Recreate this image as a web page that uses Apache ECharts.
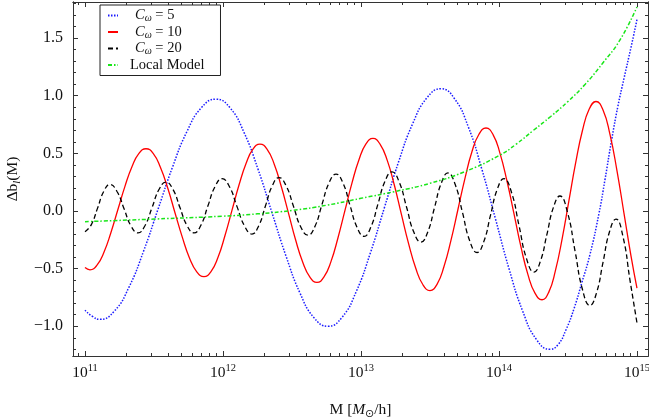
<!DOCTYPE html>
<html>
<head>
<meta charset="utf-8">
<script src="https://cdn.jsdelivr.net/npm/echarts@6/dist/echarts.min.js"></script>
<style>
  html, body { margin: 0; padding: 0; background: #ffffff; }
  #chart { width: 649px; height: 417px; }
</style>
</head>
<body>
<div id="chart"></div>
<script>
// Halo mass is stored as log10(M / [M_sun/h]); values are the bias deviation Δb_l(M).

// C_ω = 5
const logM_c5 = [11.000, 11.054, 11.109, 11.214, 11.319, 11.424, 11.529, 11.634, 11.739, 11.844, 11.949,
                 12.051, 12.152, 12.254, 12.355, 12.457, 12.558, 12.659, 12.761,
                 12.863, 12.966, 13.068, 13.170, 13.272, 13.375, 13.478, 13.580,
                 13.678, 13.778, 13.876, 13.975, 14.073, 14.172, 14.271, 14.370,
                 14.428, 14.486, 14.543, 14.601, 14.659, 14.725, 14.768, 14.817, 14.862, 14.906, 14.957, 15.000];
const db_c5 = [-0.86, -0.915, -0.94, -0.867, -0.66, -0.35, 0.015, 0.38, 0.69, 0.897, 0.97,
               0.895, 0.682, 0.362, -0.015, -0.392, -0.712, -0.925, -1.00,
               -0.922, -0.698, -0.364, 0.03, 0.424, 0.758, 0.982, 1.06,
               0.974, 0.729, 0.362, -0.07, -0.502, -0.869, -1.114, -1.20,
               -1.16, -1.03, -0.85, -0.62, -0.38, -0.02, 0.27, 0.62, 0.91, 1.15, 1.42, 1.66];

// C_ω = 10
const logM_c10 = [11.000, 11.036,
                  11.087, 11.138, 11.188, 11.239, 11.290, 11.341, 11.391, 11.442,
                  11.495, 11.547, 11.600, 11.652, 11.705, 11.757, 11.810, 11.862,
                  11.913, 11.964, 12.014, 12.065, 12.116, 12.167, 12.217, 12.268,
                  12.320, 12.372, 12.423, 12.475, 12.526, 12.578, 12.630, 12.681,
                  12.732, 12.783, 12.833, 12.884, 12.935, 12.986, 13.036, 13.087,
                  13.138, 13.191, 13.242, 13.293, 13.345, 13.397, 13.449, 13.500,
                  13.551, 13.601, 13.652, 13.703, 13.754, 13.804, 13.855, 13.906,
                  13.957, 14.007, 14.058, 14.109, 14.159, 14.210, 14.261, 14.312,
                  14.361, 14.409, 14.458, 14.507, 14.556, 14.605, 14.654, 14.703,
                  14.754, 14.804, 14.855, 14.906, 14.957, 15.000];
const db_c10 = [-0.49, -0.51,
                -0.470, -0.356, -0.186, 0.015, 0.216, 0.386, 0.500, 0.54,
                0.498, 0.377, 0.197, -0.015, -0.227, -0.407, -0.528, -0.57,
                -0.526, -0.402, -0.215, 0.005, 0.225, 0.412, 0.536, 0.58,
                0.534, 0.404, 0.210, -0.02, -0.250, -0.444, -0.574, -0.62,
                -0.572, -0.437, -0.234, 0.005, 0.244, 0.447, 0.582, 0.63,
                0.580, 0.437, 0.223, -0.03, -0.283, -0.497, -0.640, -0.69,
                -0.636, -0.484, -0.255, 0.015, 0.285, 0.514, 0.666, 0.72,
                0.663, 0.502, 0.260, -0.025, -0.310, -0.552, -0.713, -0.77,
                -0.704, -0.518, -0.239, 0.09, 0.419, 0.698, 0.884, 0.95,
                0.876, 0.666, 0.351, -0.02, -0.391, -0.67];

// C_ω = 20
const logM_c20 = [11.000, 11.045, 11.091, 11.136, 11.181,
                  11.232, 11.283, 11.333, 11.384,
                  11.435, 11.486, 11.536, 11.587,
                  11.638, 11.688, 11.739, 11.790,
                  11.841, 11.891, 11.942, 11.993,
                  12.047, 12.101, 12.156, 12.210,
                  12.259, 12.308, 12.357, 12.406,
                  12.458, 12.511, 12.563, 12.616,
                  12.667, 12.717, 12.768, 12.819,
                  12.870, 12.920, 12.971, 13.022,
                  13.072, 13.123, 13.174, 13.225,
                  13.277, 13.330, 13.382, 13.435,
                  13.484, 13.533, 13.582, 13.630,
                  13.683, 13.736, 13.788, 13.841,
                  13.890, 13.938, 13.987, 14.036,
                  14.091, 14.145, 14.199, 14.254,
                  14.301, 14.348, 14.395, 14.442,
                  14.496, 14.551, 14.605, 14.659,
                  14.707, 14.754, 14.801, 14.848,
                  14.899, 14.949, 15.000];
const db_c20 = [-0.18, -0.12, 0.025, 0.17, 0.23,
                0.169, 0.02, -0.129, -0.19,
                -0.126, 0.03, 0.186, 0.25,
                0.186, 0.03, -0.126, -0.19,
                -0.121, 0.045, 0.211, 0.28,
                0.210, 0.04, -0.130, -0.20,
                -0.128, 0.045, 0.218, 0.29,
                0.217, 0.04, -0.137, -0.21,
                -0.132, 0.055, 0.242, 0.32,
                0.241, 0.05, -0.141, -0.22,
                -0.138, 0.06, 0.258, 0.34,
                0.251, 0.035, -0.181, -0.27,
                -0.182, 0.03, 0.242, 0.33,
                0.229, -0.015, -0.259, -0.36,
                -0.266, -0.04, 0.186, 0.28,
                0.161, -0.125, -0.411, -0.53,
                -0.433, -0.20, 0.033, 0.13,
                -0.009, -0.345, -0.681, -0.82,
                -0.710, -0.445, -0.180, -0.07,
                -0.224, -0.597, -0.97];

// Local model
const logM_local = [11.0, 11.5, 12.0, 12.25, 12.5, 12.75, 13.0, 13.25, 13.5, 13.75,
                    14.0, 14.125, 14.25, 14.375, 14.5, 14.625, 14.75, 14.875, 15.0];
const db_local = [-0.093, -0.07, -0.045, -0.025, 0.005, 0.05, 0.11, 0.17, 0.24, 0.34,
                  0.48, 0.58, 0.70, 0.82, 0.95, 1.10, 1.28, 1.48, 1.77];

// Axis ticks
const xTickExponents = [11, 12, 13, 14, 15];
const yTickValues = [-1.0, -0.5, 0.0, 0.5, 1.0, 1.5];
const seriesNames = ['Cω = 5', 'Cω = 10', 'Cω = 20', 'Local Model'];

const xMin = Math.pow(10, 10.913);
const xMax = Math.pow(10, 15.08);
const yMin = -1.258;
const yMax = 1.813;

const FONT = 'Liberation Serif';
const FRAME = '#333333';

const xMajor = xTickExponents.map(e => Math.pow(10, e));
const xMinor = [];
for (let e = 10; e <= 15; e++) {
  for (let k = 2; k <= 9; k++) {
    const v = k * Math.pow(10, e);
    if (v > xMin && v < xMax) xMinor.push(v);
  }
}
const yMinor = [];
for (let i = -12; i <= 18; i++) {
  if (i % 5 !== 0) yMinor.push(i / 10);
}

function pairs(xs, ys) {
  return xs.map((lm, i) => [Math.pow(10, lm), ys[i]]);
}

function xAxis(position, ticks, len, withLabels) {
  const ax = {
    type: 'log', logBase: 10, min: xMin, max: xMax, position: position,
    axisLine: { show: true, onZero: false, lineStyle: { color: FRAME, width: 1 } },
    axisTick: { show: true, inside: true, length: len, customValues: ticks,
                lineStyle: { color: FRAME, width: 1 } },
    axisLabel: { show: false },
    splitLine: { show: false },
    minorTick: { show: false }
  };
  if (withLabels) {
    ax.axisLabel = {
      show: true, customValues: ticks, margin: 7,
      formatter: v => '{b|10}{sup|' + Math.round(Math.log10(v)) + '}',
      rich: {
        b: { fontFamily: FONT, fontSize: 15.5, color: '#111', lineHeight: 20 },
        sup: { fontFamily: FONT, fontSize: 10.5, color: '#111', verticalAlign: 'top' }
      }
    };
    ax.name = '{r|M [}{i|M}{s|⊙}{r|/h]}';
    ax.nameLocation = 'middle';
    ax.nameGap = 44;
    ax.nameTextStyle = {
      rich: {
        r: { fontFamily: FONT, fontSize: 15.5, color: '#111', lineHeight: 20 },
        i: { fontFamily: FONT, fontSize: 15.5, fontStyle: 'italic', color: '#111', lineHeight: 20 },
        s: { fontFamily: FONT, fontSize: 11, color: '#111', verticalAlign: 'bottom' }
      }
    };
  }
  return ax;
}

function yAxis(position, ticks, len, withLabels) {
  const ax = {
    type: 'value', min: yMin, max: yMax, position: position,
    axisLine: { show: true, onZero: false, lineStyle: { color: FRAME, width: 1 } },
    axisTick: { show: true, inside: true, length: len, customValues: ticks,
                lineStyle: { color: FRAME, width: 1 } },
    axisLabel: { show: false },
    splitLine: { show: false },
    minorTick: { show: false }
  };
  if (withLabels) {
    ax.axisLabel = {
      show: true, customValues: ticks, margin: 10,
      fontFamily: FONT, fontSize: 16, color: '#111',
      formatter: v => (v < 0 ? '\u2212' : '') + Math.abs(v).toFixed(1)
    };
    ax.name = '{r|Δb}{s|l}{r|(M)}';
    ax.nameLocation = 'middle';
    ax.nameRotate = 90;
    ax.nameGap = 50;
    ax.nameTextStyle = {
      rich: {
        r: { fontFamily: FONT, fontSize: 15.5, color: '#111', lineHeight: 20 },
        s: { fontFamily: FONT, fontSize: 10.5, fontStyle: 'italic', color: '#111', verticalAlign: 'bottom' }
      }
    };
  }
  return ax;
}

function line(name, data, color, width, dash) {
  return {
    name: name, type: 'line', data: data,
    xAxisIndex: 0, yAxisIndex: 0,
    smooth: 0.5, showSymbol: false, symbol: 'circle', symbolSize: 0,
    lineStyle: { color: color, width: width, type: dash, cap: 'butt' },
    itemStyle: { color: color },
    emphasis: { disabled: true }
  };
}

const chart = echarts.init(document.getElementById('chart'), null, { renderer: 'canvas' });
chart.setOption({
  animation: false,
  backgroundColor: '#ffffff',
  grid: { left: 73, top: 2, width: 575, height: 354, containLabel: false, outerBoundsMode: 'none' },
  xAxis: [
    xAxis('bottom', xMajor, 5, true),
    xAxis('bottom', xMinor, 3, false),
    xAxis('top', xMajor, 5, false),
    xAxis('top', xMinor, 3, false)
  ],
  yAxis: [
    yAxis('left', yTickValues, 5, true),
    yAxis('left', yMinor, 3, false),
    yAxis('right', yTickValues, 5, false),
    yAxis('right', yMinor, 3, false)
  ],
  legend: {
    data: seriesNames,
    orient: 'vertical',
    left: 100, top: 5,
    padding: [3, 16, 3, 7],
    itemGap: 1,
    itemWidth: 10, itemHeight: 12,
    itemStyle: { opacity: 0 },
    backgroundColor: '#ffffff',
    borderColor: '#222222', borderWidth: 1, borderRadius: 0,
    selectedMode: false,
    formatter: function (name) {
      if (name.charAt(0) === 'C') {
        return '{ci|C}{sub|ω}{tx| = ' + name.split('= ')[1] + '}';
      }
      return '{lm|' + name + '}';
    },
    textStyle: {
      rich: {
        ci: { fontFamily: FONT, fontSize: 14.5, fontStyle: 'italic', color: '#111', lineHeight: 16, padding: [0, 0, 0, 12] },
        sub: { fontFamily: FONT, fontSize: 10, fontStyle: 'italic', color: '#111', verticalAlign: 'bottom' },
        tx: { fontFamily: FONT, fontSize: 14.5, color: '#111', lineHeight: 16 },
        lm: { fontFamily: FONT, fontSize: 14.5, color: '#111', lineHeight: 16, padding: [0, 0, 0, 7] }
      }
    }
  },
  series: [
    line(seriesNames[0], pairs(logM_c5, db_c5), '#1a1aff', 1.5, [1.5, 1.5]),
    line(seriesNames[1], pairs(logM_c10, db_c10), '#ff0000', 1.3, 'solid'),
    line(seriesNames[2], pairs(logM_c20, db_c20), '#000000', 1.3, [5, 3]),
    line(seriesNames[3], pairs(logM_local, db_local), '#19e619', 1.5, [4, 2, 1.5, 2])
  ]
});
</script>
</body>
</html>
